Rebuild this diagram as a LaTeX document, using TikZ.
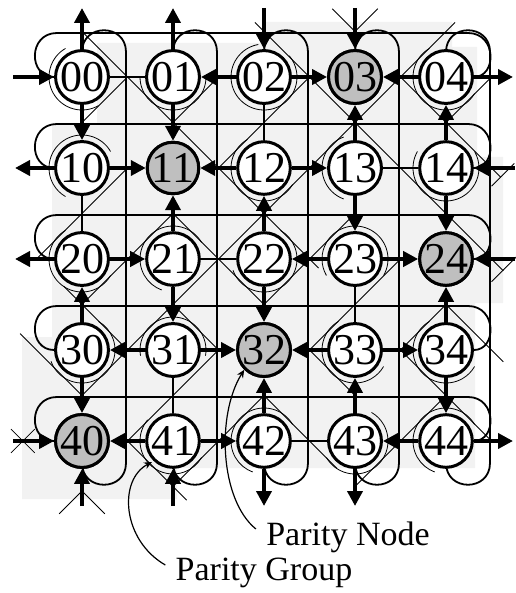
\documentclass[tikz,border=0pt]{standalone}
\usepackage{fontspec}
\setmainfont{Liberation Serif}
\usetikzlibrary{arrows.meta,positioning,backgrounds}
\definecolor{tback}{HTML}{F2F2F2}
\definecolor{tshade}{HTML}{BFBFBF}
\tikzset{
  tnode/.style={circle, draw=black, line width=1.5pt, fill=white,
                minimum size=21pt, inner sep=0pt,
                font=\fontsize{22}{22}\selectfont},
  tpar/.style={tnode, fill=tshade},
  tarr/.style={-{Triangle[length=7.5pt,width=7.5pt]}, line width=2.2pt},
  tlink/.style={line width=0.8pt},
  twire/.style={line width=0.9pt},
  tdiag/.style={line width=0.4pt},
  tring/.style={line width=0.4pt},
  tlbl/.style={font=\fontsize{17}{17}\selectfont, inner sep=0pt},
  tcall/.style={-{Stealth[length=4pt,width=3.5pt]}, line width=0.6pt},
}

\begin{document}
\begin{tikzpicture}[x=0.5pt,y=-0.5pt]

  \useasboundingbox (0,0) rectangle (515,593);

  % nodos de la malla
  \foreach \i in {0,...,4}
    \foreach \j in {0,...,4}
      \node[tnode] (n\i\j) at ({82+91*\j},{77+91*\i}) {\i\j};
  \foreach \p in {03,11,24,32,40}
    \node[tpar] at (n\p) {\p};

  \begin{scope}[on background layer]
    % fondo
    \fill[tback] (97,43) -| (265,22) -| (452,47) -| (477,157) -| (503,303)
      -| (475,468) -| (177,499) -| (22,337) -| (52,123) -| (97,43) -- cycle;

    % anillos (arcos) de los nodos de datos
    \foreach \p/\s/\e in {00/120/300, 01/180/360, 02/100/400, 04/120/330,
                          10/30/240, 12/120/330, 13/110/250, 14/150/390,
                          20/120/330, 21/30/250, 22/200/420, 23/-30/210,
                          30/200/420, 31/-10/190, 33/120/330, 34/120/330,
                          41/140/330, 42/30/250, 43/210/420, 44/30/250}
      \draw[tring] (n\p) ++(-\s:33) arc (-\s:-\e:33);

    % grupos de paridad
    \begin{scope}[shift={(82,77)}, x=45.5pt, y=-45.5pt]
      % direccion u-v
      \draw[tdiag] (0,-0.5) -- (2.6,2.1);
      \draw[tdiag] (3.5,3) -- (4.5,4);
      \draw[tdiag] (1.9,-0.6) -- (4.63,2.13);
      \draw[tdiag] (3.5,0) -- (4.6,1.1);
      \draw[tdiag] (1,1.5) -- (2,2.5);
      \draw[tdiag] (2.5,3) -- (3,3.5);
      \draw[tdiag] (1,2.5) -- (1.5,3);
      \draw[tdiag] (2,3.5) -- (2.8,4.3);
      \draw[tdiag] (4,2.5) -- (4.63,3.13);
      \draw[tdiag] (-0.2,2.3) -- (0.5,3);
      \draw[tdiag] (-0.68,2.82) -- (0,3.5);
      \draw[tdiag] (0.5,4) -- (1.15,4.65);
      % direccion u+v
      \draw[tdiag] (0,0.5) -- (0.5,0);
      \draw[tdiag] (1,0.5) -- (1.5,0);
      \draw[tdiag] (-0.5,2) -- (0.5,1);
      \draw[tdiag] (0,2.5) -- (1,1.5);
      \draw[tdiag] (1.5,1) -- (2.5,0);
      \draw[tdiag] (0,3.5) -- (4.1,-0.6);
      \draw[tdiag] (4,0.5) -- (4.5,0);
      \draw[tdiag] (0.5,4) -- (1.5,3);
      \draw[tdiag] (2,2.5) -- (3,1.5);
      \draw[tdiag] (2.5,3) -- (3.5,2);
      \draw[tdiag] (1,4.5) -- (2,3.5);
      \draw[tdiag] (3.5,3) -- (4,2.5);
      \draw[tdiag] (3,4.5) -- (4,3.5);
      % cruces en el borde
      \draw[tdiag] (-0.78,3.87) -- (-0.52,4.13) (-0.78,4.13) -- (-0.52,3.87);
      \draw[tdiag] (-0.25,4.8) -- (0,4.55) -- (0.25,4.8);
      \draw[tdiag] (2.75,-0.75) -- (3,-0.5) -- (3.25,-0.75);
      \draw[tdiag] (4.5,1.2) -- (4.75,0.95);
      \draw[tdiag] (4.5,2.25) -- (4.8,1.95);
    \end{scope}

    % cables de vuelta (filas)
    \foreach \i in {0,...,4} {
      \pgfmathsetmacro\yy{33+91*\i}
      \draw[twire] (n\i0.west) .. controls (28,{\yy+44}) and (28,\yy) .. (57,\yy)
        -- (468,\yy) .. controls (497,\yy) and (497,{\yy+44}) .. (n\i4.east);
    }
    % cables de vuelta (columnas)
    \foreach \j in {0,...,4} {
      \pgfmathsetmacro\xx{82+91*\j}
      \draw[twire] (n0\j.north) -- (\xx,52) .. controls (\xx,23) and ({\xx+44},23)
        .. ({\xx+44},52) -- ({\xx+44},463) .. controls ({\xx+44},492) and (\xx,492)
        .. (\xx,463) -- (n4\j.south);
    }
  \end{scope}

  % enlaces simples
  \foreach \a/\b in {00/01,13/14,21/22,42/43,10/20,31/41,02/12,23/33}
    \draw[tlink] (n\a) -- (n\b);

  % flechas internas
  \foreach \a/\b in {00/10,02/01,01/11,02/03,04/03,13/03,14/04,
                     10/11,12/11,21/11,12/13,22/12,13/23,14/24,
                     20/21,30/20,21/31,23/22,22/32,23/24,34/24,
                     31/30,30/40,31/32,33/32,42/32,43/33,33/34,34/44,
                     41/40,41/42,44/43}
    \draw[tarr] (n\a) -- (n\b);

  % flechas de borde
  \coordinate (w0) at (13,77);
  \coordinate (w4) at (13,441);
  \coordinate (w1) at (15,168);
  \coordinate (w2) at (15,259);
  \coordinate (e1) at (515,168);
  \coordinate (e2) at (515,259);
  \coordinate (e0) at (513,77);
  \coordinate (e4) at (513,441);
  \coordinate (t0) at (82,8);
  \coordinate (t1) at (173,8);
  \coordinate (t2) at (264,8);
  \coordinate (t3) at (355,8);
  \coordinate (b0) at (82,506);
  \coordinate (b1) at (173,506);
  \coordinate (b2) at (264,506);
  \coordinate (b3) at (355,506);
  \foreach \a/\b in {w0/n00,w4/n40,n10/w1,n20/w2,e1/n14,e2/n24,n04/e0,n44/e4,
                     n00/t0,n01/t1,t2/n02,t3/n03,b0/n40,b1/n41,n42/b2,n43/b3}
    \draw[tarr] (\a) -- (\b);

  % leyenda
  \node[tlbl] (pnode) at (348,537) {Parity Node};
  \node[tlbl] (pgroup) at (264,573) {Parity Group};
  \coordinate (gmark) at (152,462);
  \draw[tcall] (pnode.west) ++(-10,-8) .. controls (220,500) and (216,415)
    .. (n32.south west);
  \draw[tcall] (pgroup.west) ++(-10,-8) .. controls (122,540) and (118,480)
    .. (gmark);

\end{tikzpicture}
\end{document}
